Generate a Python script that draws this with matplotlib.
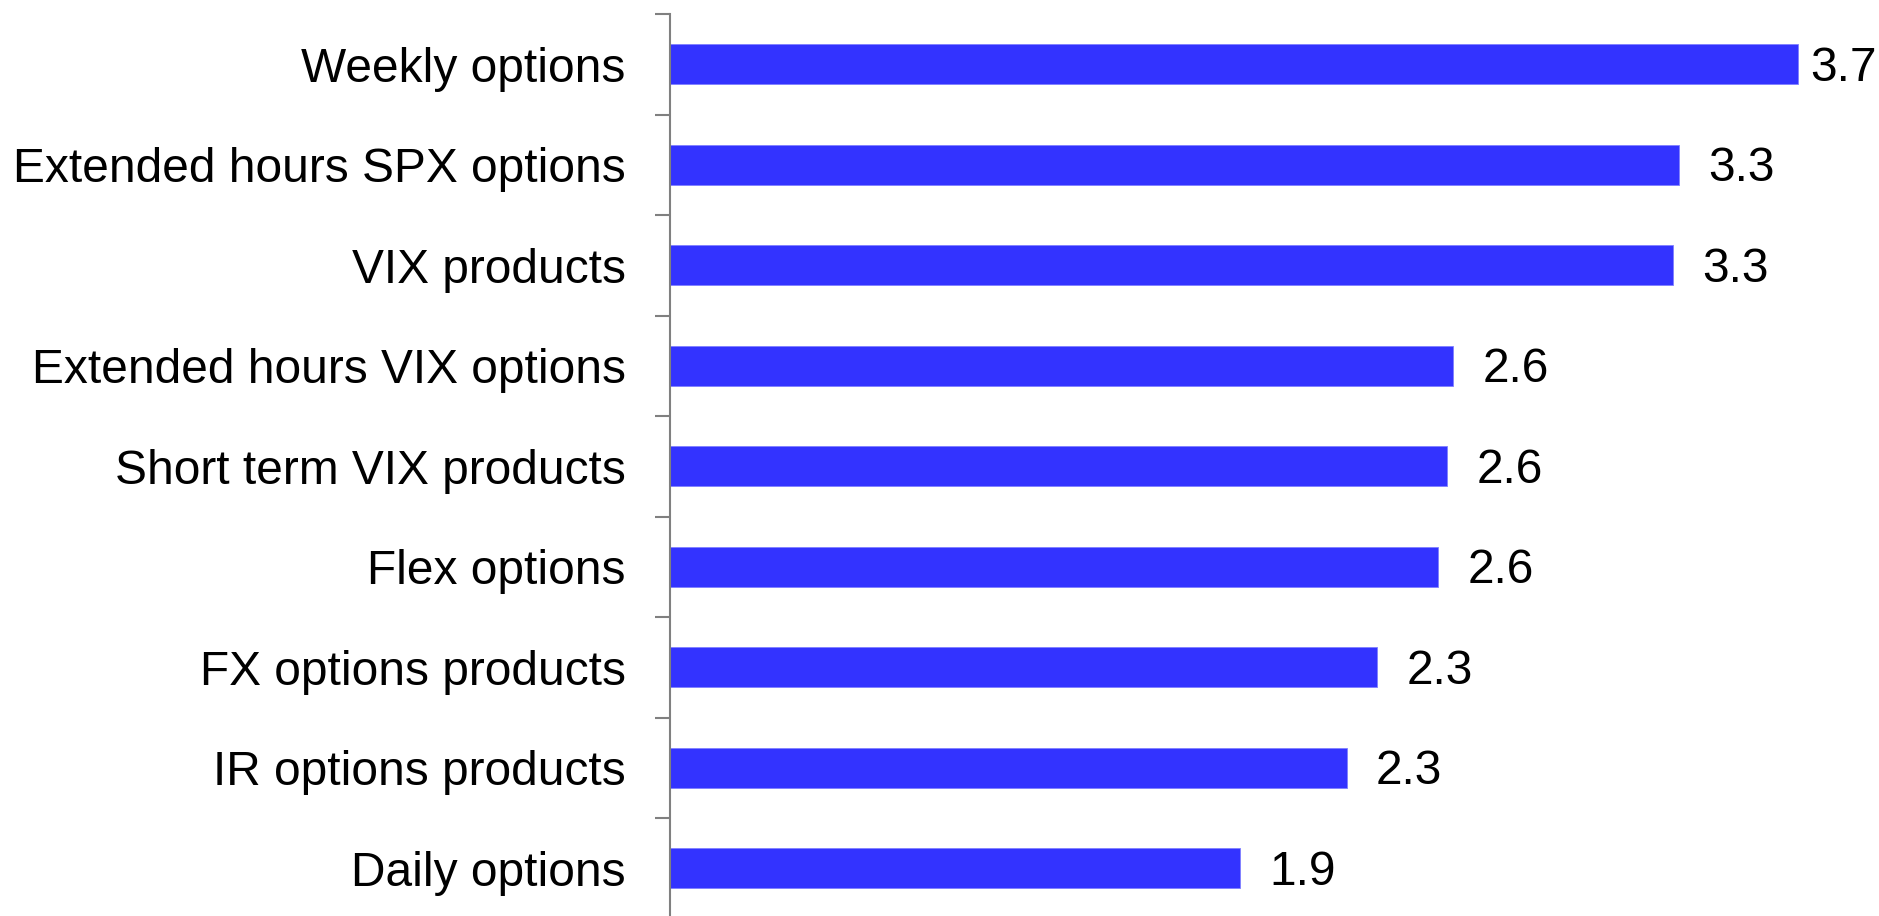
import numpy as np
import matplotlib.pyplot as plt

categories = ['Weekly options', 'Extended hours SPX options', 'VIX products',
              'Extended hours VIX options', 'Short term VIX products', 'Flex options',
              'FX options products', 'IR options products', 'Daily options']
values = [3.70, 3.31, 3.29, 2.57, 2.55, 2.52, 2.32, 2.22, 1.87]
labels = ['3.7', '3.3', '3.3', '2.6', '2.6', '2.6', '2.3', '2.3', '1.9']

plt.rcParams['font.family'] = ['Liberation Sans', 'DejaVu Sans']

fig = plt.figure(figsize=(18.79, 9.16), dpi=100)
ax = fig.add_axes([670 / 1879, -2.5 / 916, 1 - 670 / 1879, (916 - 14 + 2.5) / 916])

y = np.arange(len(categories))
ax.barh(y, values, height=0.4, color='#3333FF', edgecolor='#8080FF', linewidth=0.6)

ax.set_xlim(0, 3.967)
ax.set_ylim(len(categories) - 0.5, -0.5)

# value labels, the top one is squeezed by the figure edge
for i, (v, lab) in enumerate(zip(values, labels)):
    off = 9 if i == 0 else 21
    ax.annotate(lab, (v, i), xytext=(off, -3), textcoords='offset points',
                ha='left', va='center', fontsize=34.5)

ax.set_yticks(y)
ax.set_yticklabels(categories, fontsize=34.5)
ax.tick_params(axis='y', which='major', length=0, pad=32)
ax.set_yticks(np.arange(-0.5, len(categories), 1), minor=True)
ax.tick_params(axis='y', which='minor', length=10.8, width=1.5, color='#808080')
ax.set_xticks([])

for s in ['top', 'right', 'bottom']:
    ax.spines[s].set_visible(False)
ax.spines['left'].set_color('#808080')
ax.spines['left'].set_linewidth(1.5)

fig.savefig('out.png', dpi=100)
